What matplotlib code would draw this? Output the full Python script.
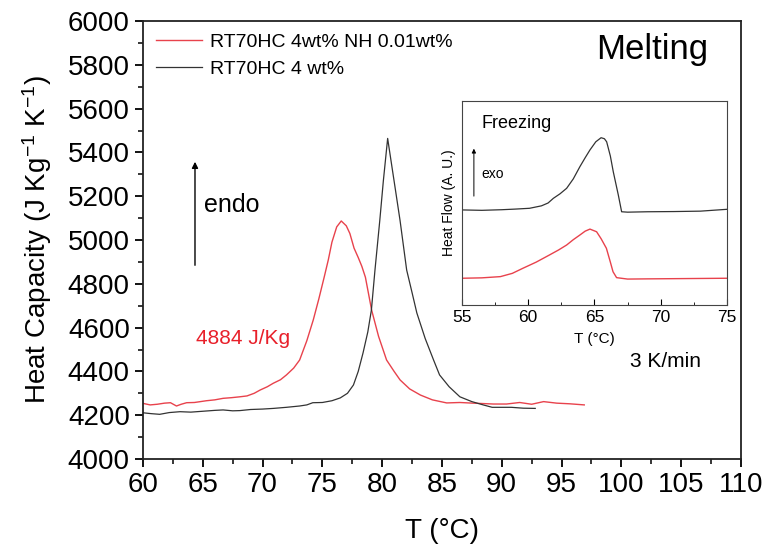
import matplotlib
matplotlib.use('Agg')
import matplotlib.pyplot as plt
from matplotlib.ticker import MultipleLocator

plt.rcParams['font.family'] = ['Liberation Sans', 'DejaVu Sans']
plt.rcParams['mathtext.default'] = 'regular'

# melting, RT70HC 4wt% NH 0.01wt%
t_red = [60.0, 60.6, 61.2, 61.8, 62.3, 62.8, 63.2, 63.65, 64.3, 65.3, 66.0, 66.7, 67.4, 68.1,
         68.7, 69.3, 69.8, 70.4, 70.9, 71.5, 72.0, 72.6, 73.1, 73.7, 74.24, 74.7, 75.16, 75.5,
         75.8, 76.2, 76.58, 77.0, 77.3, 77.65, 78.0, 78.3, 78.6, 79.12, 79.7, 80.37, 81.0, 81.5,
         82.3, 83.2, 84.2, 85.4, 86.5, 87.6, 88.5, 89.3, 90.4, 91.5, 92.5, 93.5, 94.6, 95.7, 96.9]
cp_red = [4254, 4247, 4250, 4255, 4257, 4242, 4250, 4257, 4258, 4266, 4270, 4277, 4280, 4284,
          4288, 4300, 4315, 4330, 4346, 4362, 4384, 4415, 4452, 4540, 4635, 4730, 4832, 4910,
          4990, 5060, 5087, 5065, 5030, 4963, 4920, 4880, 4830, 4680, 4560, 4452, 4400, 4361,
          4320, 4292, 4270, 4256, 4258, 4255, 4253, 4251, 4251, 4258, 4250, 4262, 4255, 4252, 4247]

# melting, RT70HC 4 wt%
t_blk = [60.0, 60.7, 61.4, 62.2, 63.1, 64.0, 65.0, 66.0, 66.7, 67.5, 68.1, 69.0, 70.0, 70.9,
         72.0, 73.1, 73.7, 74.2, 75.0, 75.8, 76.5, 77.1, 77.6, 78.0, 78.4, 78.8, 79.1, 79.4,
         79.8, 80.1, 80.46, 80.8, 81.1, 81.5, 82.05, 82.5, 82.9, 83.6, 84.3, 84.8, 85.6, 86.5,
         87.5, 88.45, 89.2, 89.85, 90.8, 91.8, 92.8]
cp_blk = [4211, 4207, 4204, 4212, 4216, 4214, 4218, 4222, 4224, 4220, 4221, 4226, 4228, 4231,
          4236, 4242, 4247, 4257, 4258, 4266, 4279, 4300, 4338, 4400, 4484, 4580, 4680, 4863,
          5088, 5270, 5464, 5341, 5233, 5088, 4863, 4760, 4667, 4550, 4452, 4384, 4330, 4284,
          4262, 4247, 4236, 4236, 4236, 4232, 4231]

# freezing inset (arbitrary units)
tf_blk = [55.0, 56.5, 58.0, 59.0, 60.1, 61.0, 61.5, 61.9, 62.4, 62.9, 63.4, 63.9, 64.3, 64.66,
          65.1, 65.5, 65.75, 65.92, 66.2, 66.42, 66.8, 67.05, 67.5, 69.0, 71.0, 73.0, 75.0]
hf_blk = [0.466, 0.464, 0.467, 0.470, 0.474, 0.486, 0.500, 0.523, 0.545, 0.572, 0.618, 0.678,
          0.722, 0.760, 0.800, 0.820, 0.815, 0.800, 0.730, 0.653, 0.539, 0.457, 0.455, 0.457,
          0.458, 0.460, 0.469]
tf_red = [55.0, 56.5, 57.9, 58.8, 59.6, 60.6, 61.6, 62.3, 62.9, 63.4, 63.9, 64.3, 64.66, 65.16,
          65.5, 65.9, 66.2, 66.4, 66.67, 67.5, 69.0, 71.0, 73.0, 75.0]
hf_red = [0.131, 0.133, 0.139, 0.155, 0.180, 0.210, 0.245, 0.270, 0.294, 0.320, 0.343, 0.362,
          0.372, 0.359, 0.325, 0.278, 0.210, 0.163, 0.134, 0.127, 0.128, 0.129, 0.130, 0.131]

red = '#e8424c'
dark = '#333333'

fig = plt.figure(figsize=(7.67, 5.54), dpi=100)
ax = fig.add_axes([0.1864, 0.1715, 0.7796, 0.7905])

ax.plot(t_red, cp_red, color=red, lw=1.0, label='RT70HC 4wt% NH 0.01wt%')
ax.plot(t_blk, cp_blk, color=dark, lw=0.9, label='RT70HC 4 wt%')

ax.set_xlim(60, 110)
ax.set_ylim(4000, 6000)
ax.xaxis.set_major_locator(MultipleLocator(5))
ax.xaxis.set_minor_locator(MultipleLocator(2.5))
ax.yaxis.set_major_locator(MultipleLocator(200))
ax.yaxis.set_minor_locator(MultipleLocator(100))
ax.tick_params(which='major', direction='out', length=6, width=1.3, labelsize=20)
ax.tick_params(which='minor', direction='out', length=3.5, width=1.1)
for s in ax.spines.values():
    s.set_linewidth(1.3)
    s.set_color('#222222')

ax.set_xlabel('T (°C)', fontsize=20, labelpad=14)
ax.set_ylabel('Heat Capacity (J Kg$^{-1}$ K$^{-1}$)', fontsize=20, labelpad=10)

ax.legend(loc='upper left', bbox_to_anchor=(0.0, 1.0), frameon=False, fontsize=14,
          handlelength=2.4, handletextpad=0.4, labelspacing=0.45, borderaxespad=0.25)

ax.text(0.945, 0.973, 'Melting', transform=ax.transAxes, fontsize=25, ha='right', va='top')
ax.annotate('', xy=(64.35, 5370), xytext=(64.35, 4872),
            arrowprops=dict(arrowstyle='-|>', color='black', lw=1, mutation_scale=9))
ax.text(65.1, 5160, 'endo', fontsize=18, va='center')
ax.text(64.4, 4548, '4884 J/Kg', fontsize=15, color='#e8202a', va='center')
ax.text(100.7, 4443, '3 K/min', fontsize=15, va='center')

# inset: freezing
axi = fig.add_axes([0.6023, 0.4495, 0.3455, 0.3682])
axi.plot(tf_blk, hf_blk, color=dark, lw=0.9)
axi.plot(tf_red, hf_red, color=red, lw=1.0)
axi.set_xlim(55, 75)
axi.set_ylim(0, 1)
axi.set_yticks([])
axi.xaxis.set_major_locator(MultipleLocator(5))
axi.xaxis.set_minor_locator(MultipleLocator(2.5))
axi.tick_params(which='major', direction='in', length=4, labelsize=12.5)
axi.tick_params(which='minor', direction='in', length=2)
for s in axi.spines.values():
    s.set_linewidth(0.8)
    s.set_color('#444444')
axi.set_xlabel('T (°C)', fontsize=11, labelpad=5)
axi.set_ylabel('Heat Flow (A. U.)', fontsize=10, labelpad=4)
axi.text(56.5, 0.89, 'Freezing', fontsize=13, va='center')
axi.annotate('', xy=(55.9, 0.78), xytext=(55.9, 0.52),
             arrowprops=dict(arrowstyle='-|>', color='black', lw=0.7, mutation_scale=6))
axi.text(56.5, 0.64, 'exo', fontsize=10, va='center')

plt.savefig('out.png', dpi=100)
